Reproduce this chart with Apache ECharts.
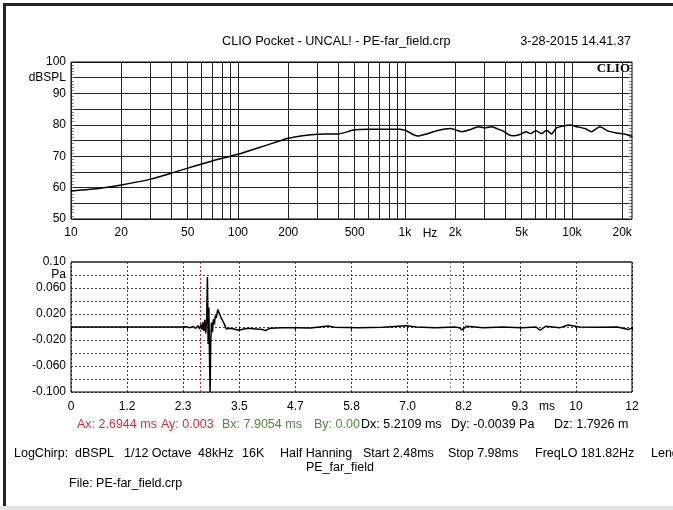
<!DOCTYPE html>
<html><head><meta charset="utf-8">
<script src="https://cdn.jsdelivr.net/npm/echarts@6/dist/echarts.min.js"></script>
<style>html,body{margin:0;padding:0;background:#fff;overflow:hidden}#c{width:673px;height:510px}</style>
</head><body><div id="c"></div>
<script>
// ---- Frequency response (top) ----
const freqHz = [10,15,20,30,40,50,70,100,150,200,250,300,400,500,600,800,933,1020,1120,1200,1350,1550,1860,2040,2190,2500,2750,3010,3300,3540,3880,4160,4460,4880,5300,5660,6090,6580,7060,7540,8090,8880,9730,10700,12000,13100,14700,16500,18500,21200,23000];
const splDb  = [58.9,59.8,60.8,62.7,64.6,66.2,68.5,70.6,73.6,75.7,76.6,77.0,77.1,78.4,78.6,78.6,78.6,78.1,76.9,76.4,77.1,78.1,78.8,78.3,77.8,78.6,79.4,79.0,79.4,78.8,78.0,76.9,76.5,76.9,77.8,77.2,78.1,77.2,78.3,77.1,79.0,79.6,79.9,79.4,78.8,77.8,79.4,78.0,77.4,76.9,76.2];
const freqGridHz = [10,20,30,40,50,60,70,80,90,100,200,300,400,500,600,700,800,900,1000,2000,3000,4000,5000,6000,7000,8000,9000,10000,20000];
const freqTickValues = [10,20,50,100,200,500,1000,2000,5000,10000,20000];
const freqTickLabels = ['10','20','50','100','200','500','1k','2k','5k','10k','20k'];
const splTickLabels = ['50','','60','','70','','80','','90','dBSPL','100'];

// ---- Impulse response (bottom) ----
const timeMs = [0,2.3,2.4,2.48,2.55,2.6,2.65,2.68,2.71,2.73,2.75,2.77,2.79,2.81,2.83,2.845,2.86,2.875,2.885,2.9,2.915,2.93,2.95,2.97,2.99,3.01,3.03,3.06,3.09,3.12,3.16,3.2,3.24,3.3,3.4,3.5,3.6,3.7,3.85,4.0,4.05,4.15,4.4,4.7,5.0,5.36,5.5,6.0,6.5,7.0,7.2,7.6,8.0,8.1,8.15,8.25,8.6,9.0,9.4,9.7,9.78,9.9,10.2,10.37,10.6,11.0,11.4,11.62,11.7];
const pressurePa = [0,0,0.0005,-0.001,0.001,-0.002,0.002,-0.003,0.004,-0.004,0.007,-0.006,0.011,-0.01,0.013,0.077,-0.026,0.03,-0.026,-0.1,-0.02,0.007,-0.008,0.012,0.004,0.018,0.014,0.027,0.025,0.016,0.01,0.004,-0.003,-0.002,-0.003,-0.005,-0.003,-0.002,-0.003,-0.004,-0.0055,-0.002,-0.001,-0.001,-0.0015,0.0015,-0.0005,-0.001,-0.0005,0.002,0,-0.001,0,-0.001,-0.0045,0.001,-0.001,0,-0.001,0,-0.005,0.001,-0.001,0.003,0,-0.0005,0,-0.004,-0.0013];
const timeTickLabels = ['0','1.2','2.3','3.5','4.7','5.8','7.0','8.2','9.3','10','12'];
const paTickLabels = ['-0.100','','-0.060','','-0.020','','0.020','','0.060','Pa','0.10'];
const cursorAms = 2.6944, cursorBms = 7.9054;

const FONT = '"Liberation Sans", Arial, sans-serif';
const chart = echarts.init(document.getElementById('c'), null, {renderer:'canvas'});
const freqLabelOf = v => { const i = freqTickValues.indexOf(v); return i >= 0 ? freqTickLabels[i] : ''; };

function txt(x, y, s, opt) {
  return Object.assign({type:'text', x:x, y:y, silent:true,
    style:Object.assign({text:s, font:'12.5px ' + FONT, fill:'#000', textVerticalAlign:'middle'}, opt||{})});
}

const option = {
  animation:false,
  textStyle:{fontFamily:FONT},
  grid:[
    {left:71, top:62, width:561, height:157, show:true, borderColor:'#000', borderWidth:1, z:1},
    {left:71, top:262, width:561, height:130, show:true, borderColor:'#000', borderWidth:1, z:1}
  ],
  xAxis:[
    {type:'log', gridIndex:0, min:10, max:22900, logBase:10,
     axisLine:{show:false}, axisTick:{show:false}, axisLabel:{show:false}, splitLine:{show:false}},
    {type:'value', gridIndex:1, min:0, max:11.7, interval:1.17,
     axisLine:{show:false},
     axisTick:{show:true, length:3, lineStyle:{color:'#000'}},
     axisLabel:{show:true, margin:9, fontSize:12, color:'#000', fontFamily:FONT,
       formatter:v => timeTickLabels[Math.round(v/1.17)] ?? ''},
     splitLine:{show:true, lineStyle:{color:'#444', type:[2,2], width:1}}}
  ],
  yAxis:[
    {type:'value', gridIndex:0, min:50, max:100, interval:5,
     axisLine:{show:false},
     axisTick:{show:true, inside:true, length:3, lineStyle:{color:'#666'}},
     minorTick:{show:true, splitNumber:5, length:3, lineStyle:{color:'#888'}},
     axisLabel:{margin:5, fontSize:12, color:'#000', fontFamily:FONT,
       formatter:v => splTickLabels[Math.round((v-50)/5)] ?? ''},
     splitLine:{show:true, lineStyle:{color:'#222', width:1}}},
    {type:'value', gridIndex:0, position:'right', min:50, max:100, interval:5,
     axisLine:{show:false}, axisLabel:{show:false}, splitLine:{show:false},
     axisTick:{show:true, inside:true, length:3, lineStyle:{color:'#666'}},
     minorTick:{show:true, splitNumber:5, length:3, lineStyle:{color:'#888'}}},
    {type:'value', gridIndex:1, min:-0.1, max:0.1, interval:0.02,
     axisLine:{show:false},
     axisTick:{show:false},
     axisLabel:{margin:5, fontSize:12, color:'#000', fontFamily:FONT,
       formatter:v => paTickLabels[Math.round((v+0.1)/0.02)] ?? ''},
     splitLine:{show:true, lineStyle:{color:'#444', type:[2,2], width:1}}}
  ],
  series:[
    {type:'line', xAxisIndex:0, yAxisIndex:0, showSymbol:false, symbol:'none', smooth:0.2,
     lineStyle:{color:'#000', width:1.5}, z:5,
     data:freqHz.map((f,i)=>[f, splDb[i]]),
     markLine:{silent:true, symbol:['none','none'], animation:false,
       lineStyle:{color:'#222', type:'solid', width:1},
       label:{show:true, position:'start', distance:8, color:'#000', fontSize:12, fontFamily:FONT,
         formatter:p => freqLabelOf(p.value)},
       data:freqGridHz.map(v=>({xAxis:v}))}},
    {type:'line', xAxisIndex:1, yAxisIndex:2, showSymbol:false, symbol:'none',
     lineStyle:{color:'#000', width:1.5}, z:5, clip:true,
     data:timeMs.map((t,i)=>[t, pressurePa[i]]),
     markLine:{silent:true, symbol:['none','none'], animation:false, label:{show:false},
       data:[
         {xAxis:cursorAms, lineStyle:{color:'#e02020', type:[2,2], width:1}},
         {xAxis:cursorBms, lineStyle:{color:'#7a9a70', type:[2,2], width:1}}
       ]}}
  ],
  graphic:[
    // outer frame
    {type:'rect', shape:{x:3, y:3, width:700, height:3}, style:{fill:'#222'}, silent:true},
    {type:'rect', shape:{x:3, y:3, width:3, height:503}, style:{fill:'#222'}, silent:true},
    {type:'rect', shape:{x:0, y:506, width:673, height:4}, style:{fill:'#e4e4e4'}, silent:true},
    // thick top border of the impulse plot
    {type:'rect', shape:{x:71, y:261, width:561, height:2}, style:{fill:'#555'}, silent:true, z:10},
    txt(222, 41, 'CLIO Pocket - UNCAL! - PE-far_field.crp', {font:'12.7px ' + FONT}),
    txt(631, 41, '3-28-2015 14.41.37', {textAlign:'right', font:'12.7px ' + FONT}),
    txt(630, 69, 'CLIO', {textAlign:'right', font:'bold 13px "Liberation Serif", "DejaVu Serif", serif'}),
    txt(430, 234, 'Hz', {textAlign:'center', font:'12px ' + FONT}),
    txt(547, 407, 'ms', {textAlign:'center', font:'12px ' + FONT}),
    txt(77, 425, 'Ax: 2.6944 ms', {fill:'#d83030'}),
    txt(161, 425, 'Ay: 0.003', {fill:'#d83030'}),
    txt(222, 425, 'Bx: 7.9054 ms', {fill:'#4a8a3a'}),
    txt(314, 425, 'By: 0.00', {fill:'#4a8a3a'}),
    txt(361, 425, 'Dx: 5.2109 ms'),
    txt(451, 425, 'Dy: -0.0039 Pa'),
    txt(554, 425, 'Dz: 1.7926 m'),
    txt(14, 454, 'LogChirp:'),
    txt(75, 454, 'dBSPL'),
    txt(124, 454, '1/12 Octave'),
    txt(198, 454, '48kHz'),
    txt(242, 454, '16K'),
    txt(280, 454, 'Half Hanning'),
    txt(363, 454, 'Start 2.48ms'),
    txt(448, 454, 'Stop 7.98ms'),
    txt(535, 454, 'FreqLO 181.82Hz'),
    txt(651, 454, 'Length'),
    txt(340, 468, 'PE_far_field', {textAlign:'center'}),
    txt(69, 484, 'File: PE-far_field.crp')
  ]
};
chart.setOption(option);
</script></body></html>
